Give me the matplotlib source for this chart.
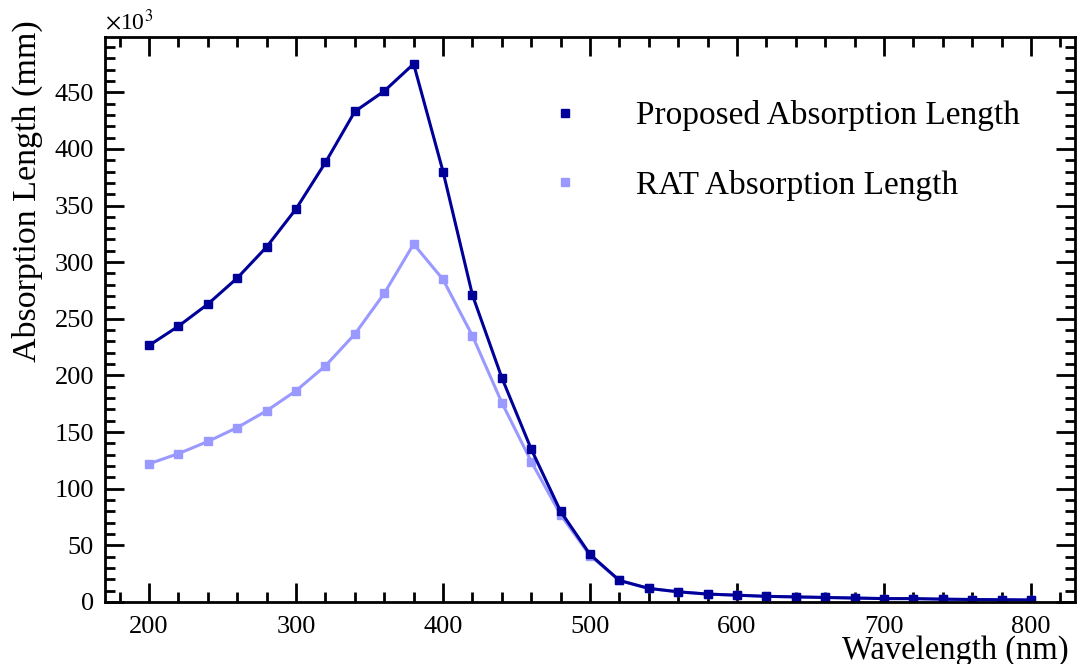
import matplotlib
matplotlib.use("Agg")
import matplotlib.pyplot as plt
from matplotlib.ticker import MultipleLocator

# wavelength (nm) and absorption length (x10^3 mm)
wavelength = [200, 220, 240, 260, 280, 300, 320, 340, 360, 380, 400, 420, 440, 460,
              480, 500, 520, 540, 560, 580, 600, 620, 640, 660, 680, 700, 720, 740,
              760, 780, 800]
proposed = [226.5, 243.5, 263, 286, 313.5, 347, 388, 433, 451, 475, 380, 271, 198, 135,
            80, 42, 19, 12, 9, 7, 6, 5, 4.5, 4, 3.5, 3, 3, 2.5, 2.2, 2, 1.8]
rat = [122, 131, 141.7, 154, 168.8, 186.5, 208.5, 236.5, 272.4, 316, 284.7, 235, 176, 124,
       77, 41, 19, 12, 9, 7, 6, 5, 4.5, 4, 3.5, 3, 3, 2.5, 2.2, 2, 1.8]

plt.rcParams['font.family'] = ['Liberation Serif', 'DejaVu Serif']
plt.rcParams['mathtext.fontset'] = 'stix'

fig = plt.figure(figsize=(10.8, 6.64), dpi=100)
ax = fig.add_axes([105 / 1080, 62 / 664, 970 / 1080, 565 / 664])

dark = '#000099'
light = '#9999ff'

ax.plot(wavelength, rat, color=light, lw=2.2, marker='s', ms=5.5, mec=light,
        label='RAT Absorption Length')
ax.plot(wavelength, proposed, color=dark, lw=2.2, marker='s', ms=5.5, mec=dark,
        label='Proposed Absorption Length')

ax.set_xlim(170, 830)
ax.set_ylim(0, 498.75)
ax.xaxis.set_major_locator(MultipleLocator(100))
ax.xaxis.set_minor_locator(MultipleLocator(20))
ax.yaxis.set_major_locator(MultipleLocator(50))
ax.yaxis.set_minor_locator(MultipleLocator(10))
ax.tick_params(which='both', direction='in', top=True, right=True, width=2,
               labelsize=19)
ax.tick_params(which='major', length=14)
ax.tick_params(which='minor', length=7)
ax.tick_params(axis='x', pad=10)
ax.tick_params(axis='y', pad=8)
for s in ax.spines.values():
    s.set_linewidth(2)

ax.set_xlabel('Wavelength (nm)', fontsize=23.5, loc='right')
ax.xaxis.set_label_coords(0.993, -0.059)
ax.set_ylabel('Absorption Length (mm)', fontsize=24.5, loc='top')
ax.yaxis.set_label_coords(-0.064, 1.03)

ax.text(0.0, 1.005, r'$\times$10$^3$', transform=ax.transAxes, fontsize=17,
        ha='left', va='bottom')

handles, labels = ax.get_legend_handles_labels()
leg = ax.legend(handles[::-1], labels[::-1], loc='upper left',
                bbox_to_anchor=(0.426, 0.941), frameon=False, fontsize=24,
                handlelength=1.0, handletextpad=1.63, labelspacing=1.15,
                numpoints=1, markerscale=1.0)
for h in leg.legend_handles:
    h.set_linestyle('none')

fig.savefig('out.png', dpi=100)
